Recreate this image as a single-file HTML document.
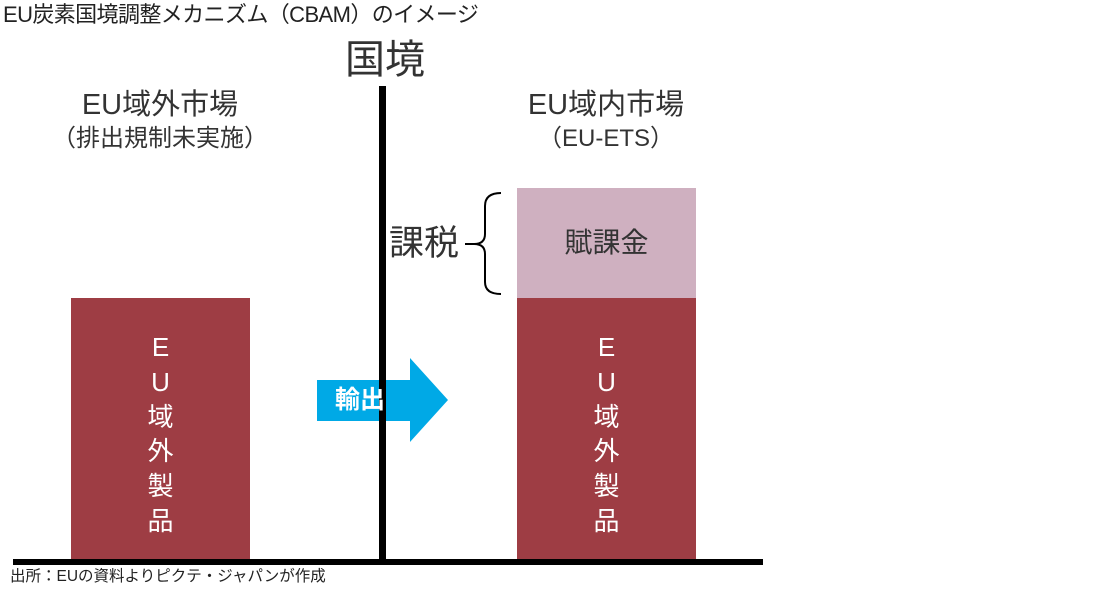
<!DOCTYPE html>
<html><head><meta charset="utf-8"><style>
body{margin:0;background:#fff;width:1108px;height:590px;overflow:hidden;position:relative;font-family:"Liberation Sans","Noto Sans CJK JP",sans-serif;color:#333}
.a{position:absolute;white-space:nowrap}
.c{text-align:center}
</style></head><body>
<div class="a" style="left:3px;top:2px;font-size:22px;line-height:26px;color:#222;letter-spacing:-0.6px">EU炭素国境調整メカニズム（CBAM）のイメージ</div>
<div class="a c" style="left:335px;width:100px;top:38px;font-size:40px;line-height:44px;color:#333">国境</div>
<div class="a c" style="left:40px;width:240px;top:88px;font-size:29px;line-height:34px">EU域外市場</div>
<div class="a c" style="left:40px;width:240px;top:124px;font-size:24px;line-height:30px">（排出規制未実施）</div>
<div class="a c" style="left:486px;width:240px;top:88px;font-size:29px;line-height:34px">EU域内市場</div>
<div class="a c" style="left:486px;width:240px;top:124px;font-size:24px;line-height:30px">（EU-ETS）</div>
<div class="a" style="left:71px;top:298px;width:179px;height:262px;background:#9e3d44"></div>
<div class="a" style="left:517px;top:188px;width:179px;height:110px;background:#cfb0c0"></div>
<div class="a" style="left:517px;top:298px;width:179px;height:262px;background:#9e3d44"></div>
<div class="a c" style="left:517px;width:179px;top:226px;font-size:28px;line-height:34px;color:#333">賦課金</div>
<div class="a c" style="left:71px;width:179px;top:330px;font-size:26px;line-height:34.8px;color:#fff">E<br>U<br>域<br>外<br>製<br>品</div>
<div class="a c" style="left:517px;width:179px;top:330px;font-size:26px;line-height:34.8px;color:#fff">E<br>U<br>域<br>外<br>製<br>品</div>
<div class="a" style="left:389px;top:224px;font-size:35px;line-height:40px;color:#333">課税</div>
<svg class="a" style="left:0;top:0" width="1108" height="590">
<path d="M317 380 H410 V358 L448 400 L410 442 V421 H317 Z" fill="#00a9e6"/>
<rect x="379" y="86" width="7" height="477" fill="#000"/>
<rect x="13" y="559" width="750" height="6" fill="#000"/>
<path d="M501 193 Q485 193 485 206 V234 Q485 244 474 244 Q485 244 485 254 V282 Q485 294 501 294" fill="none" stroke="#000" stroke-width="2"/>
<line x1="465" y1="244" x2="475" y2="244" stroke="#000" stroke-width="2"/>
</svg>
<div class="a" style="left:335px;top:385px;font-size:25px;line-height:30px;color:#fff;font-weight:bold">輸出</div>
<div class="a" style="left:10px;top:568px;font-size:15.5px;line-height:18px;color:#222">出所：EUの資料よりピクテ・ジャパンが作成</div>
</body></html>
